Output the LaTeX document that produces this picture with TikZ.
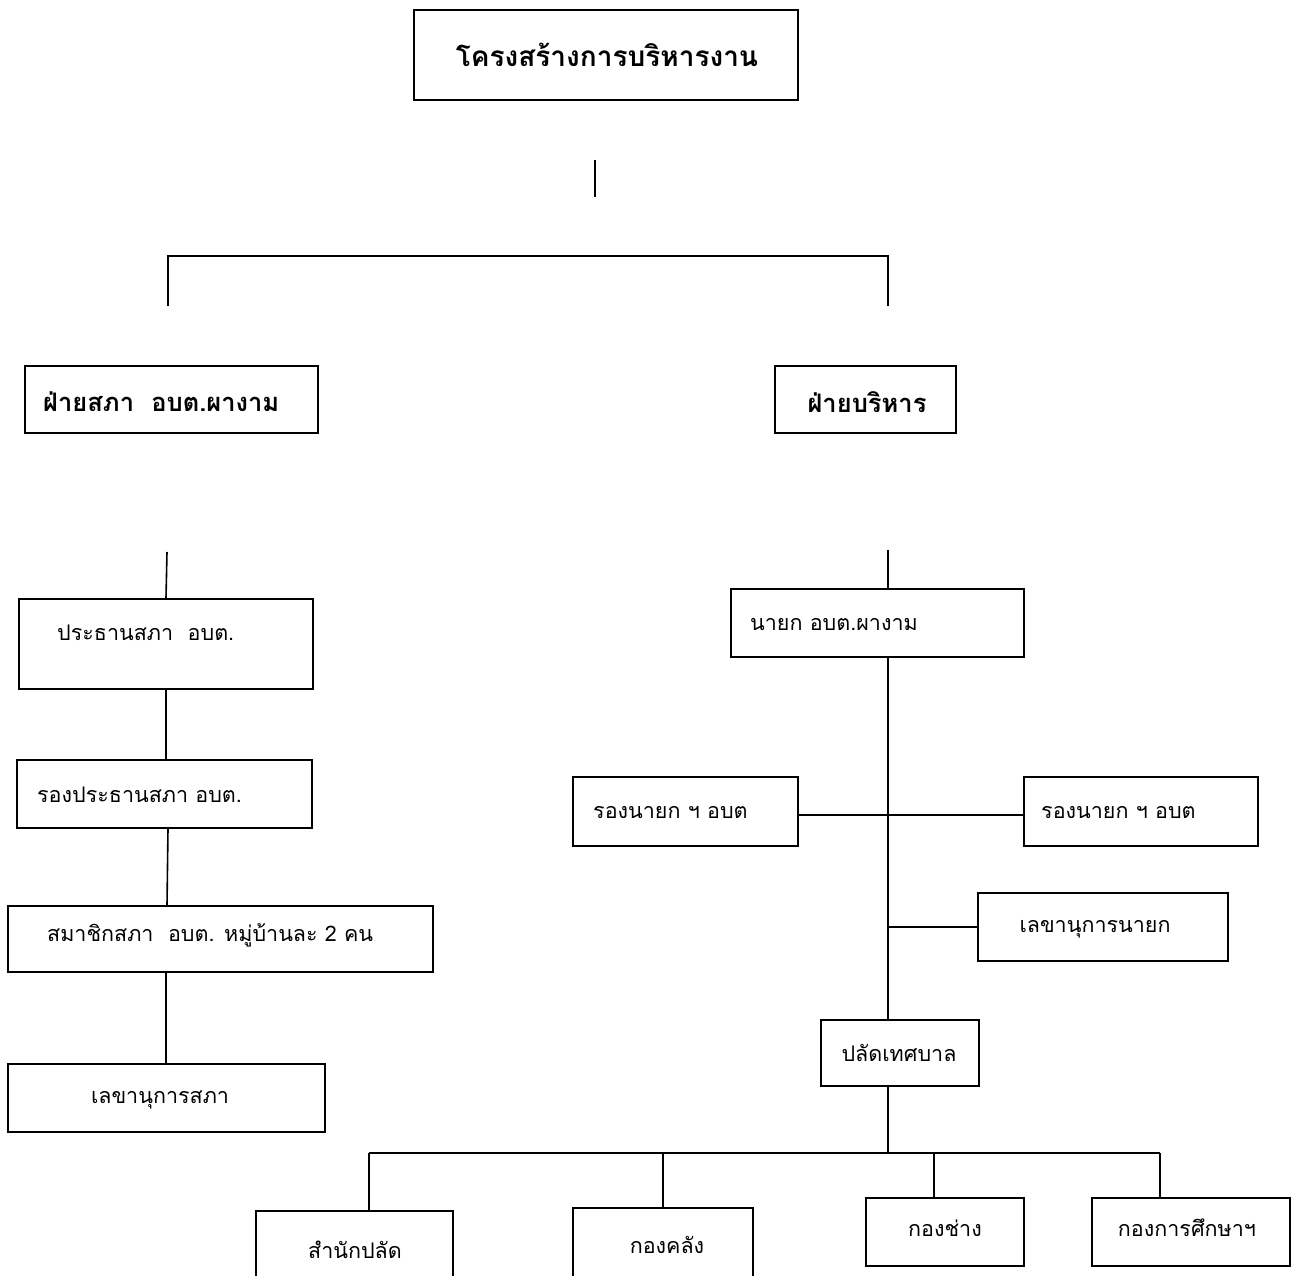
\documentclass[tikz,border=0pt]{standalone}
\usepackage{fontspec}
\newfontfamily\thai[Script=Thai]{Loma}
\usetikzlibrary{calc}
\newcommand\bx[5]{\node[box, minimum width={#4-#2}, minimum height={#5-#3}] (#1) at ({(#2+#4)/2},{(#3+#5)/2}) {};}
\begin{document}
\begin{tikzpicture}[x=1pt,y=-1pt,
  box/.style={draw, line width=1.6pt, rectangle, inner sep=0pt},
  lbl/.style={font=\thai\fontsize{21.5}{26}\selectfont, inner sep=0pt},
  blbl/.style={font=\thai\bfseries\fontsize{25.5}{30}\selectfont, inner sep=0pt},
  tlbl/.style={font=\thai\bfseries\fontsize{28}{32}\selectfont, inner sep=0pt},
  conn/.style={line width=1.6pt}]
\clip (0,0) rectangle (1291,1276);
\fill[white] (0,0) rectangle (1291,1276);

% boxes
\bx{title}{414}{10}{798}{100}
\bx{sapha}{25}{366}{318}{433}
\bx{borihan}{775}{366}{956}{433}
\bx{pres}{19}{599}{313}{689}
\bx{vpres}{17}{760}{312}{828}
\bx{member}{8}{906}{433}{972}
\bx{secs}{8}{1064}{325}{1132}
\bx{mayor}{731}{589}{1024}{657}
\bx{vml}{573}{777}{798}{846}
\bx{vmr}{1024}{777}{1258}{846}
\bx{secm}{978}{893}{1228}{961}
\bx{palad}{821}{1020}{979}{1086}
\bx{d1}{256}{1211}{453}{1300}
\bx{d2}{573}{1208}{753}{1300}
\bx{d3}{866}{1198}{1024}{1266}
\bx{d4}{1092}{1198}{1290}{1266}

% texts
\node[tlbl] (tt) at (607,55) {โครงสร้างการบริหารงาน};
\node[blbl, anchor=west] (t1) at (43,402) {ฝ่ายสภา\ \ อบต.ผางาม};
\node[blbl] (t2) at (867,402) {ฝ่ายบริหาร};
\node[lbl, anchor=west] (t3) at (57,633) {ประธานสภา\ \ อบต.};
\node[lbl, anchor=west] (t4) at (37,795) {รองประธานสภา อบต.};
\node[lbl, anchor=west] (t5) at (47,935) {สมาชิกสภา\ \ อบต. หมู่บ้านละ 2 คน};
\node[lbl] (t6) at (160,1100) {เลขานุการสภา};
\node[lbl, anchor=west] (t7) at (750,625) {นายก อบต.ผางาม};
\node[lbl, anchor=west] (t8) at (593,813) {รองนายก ฯ อบต};
\node[lbl, anchor=west] (t9) at (1041,813) {รองนายก ฯ อบต};
\node[lbl] (t10) at (1095,929) {เลขานุการนายก};
\node[lbl] (t11) at (899,1053) {ปลัดเทศบาล};
\node[lbl] (t12) at (355,1250) {สำนักปลัด};
\node[lbl] (t13) at (667,1245) {กองคลัง};
\node[lbl] (t14) at (945,1228) {กองช่าง};
\node[lbl] (t15) at (1187,1228) {กองการศึกษาฯ};

% free coordinates
\coordinate (ts1) at (595,160);
\coordinate (ts2) at (595,197);
\coordinate (bl) at (168,306);
\coordinate (blt) at (168,256);
\coordinate (brt) at (888,256);
\coordinate (br) at (888,306);
\coordinate (ls) at (167,552);
\coordinate (rs) at (888,550);
\coordinate (lm) at (166,972);
\coordinate (bus) at (888,1153);
\coordinate (busL) at (369,1153);
\coordinate (busR) at (1160,1153);
\coordinate (j3) at (934,1153);

% connectors
\draw[conn] (ts1) -- (ts2);
\draw[conn] (bl) -- (blt) -- (brt) -- (br);
\draw[conn] (ls) -- (pres.north);
\draw[conn] (pres.south) -- (pres.south |- vpres.north);
\draw[conn] ($(vpres.south)+(3.5,0)$) -- ($(member.north)+(-53.5,0)$);
\draw[conn] (lm) -- (lm |- secs.north);
\draw[conn] (rs) -- (rs |- mayor.north);
\draw[conn] (rs |- mayor.south) -- (rs |- palad.north);
\draw[conn] ($(vml.east)+(0,3.5)$) -- ($(vmr.west)+(0,3.5)$);
\draw[conn] (rs |- secm.west) -- (secm.west);
\draw[conn] (rs |- palad.south) -- (bus);
\draw[conn] (busL) -- (busR);
\draw[conn] (busL) -- (busL |- d1.north);
\draw[conn] (d2.north |- busL) -- (d2.north);
\draw[conn] (j3) -- (j3 |- d3.north);
\draw[conn] (busR) -- (busR |- d4.north);
\end{tikzpicture}
\end{document}
